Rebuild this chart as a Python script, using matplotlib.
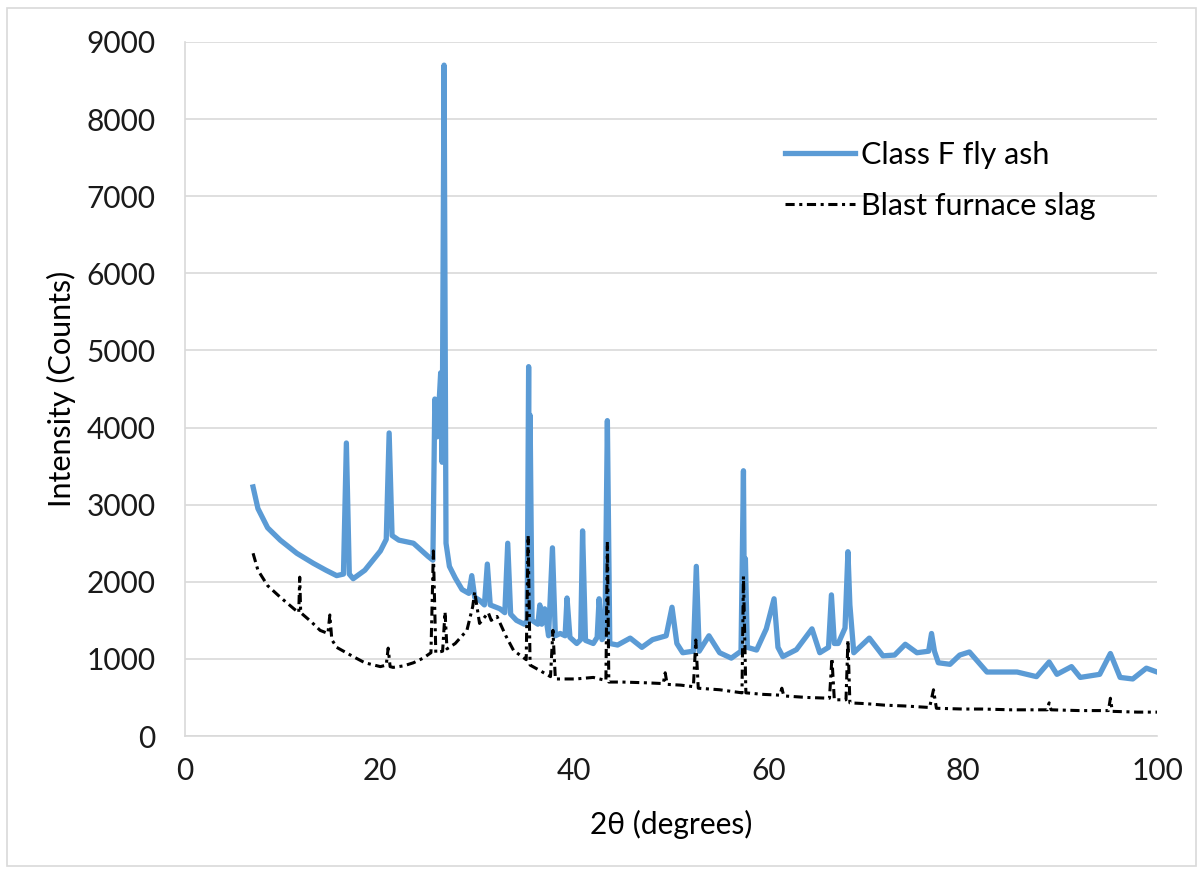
import matplotlib
matplotlib.use("Agg")
import matplotlib.pyplot as plt
from matplotlib.patches import Rectangle

plt.rcParams['font.family'] = ['Lato', 'DejaVu Sans']

# XRD pattern: 2-theta (degrees) and intensity (counts)
fly_ash_2theta = [7.0, 7.5, 8.5, 9.8, 11.5, 13.2, 14.5, 15.6, 16.3, 16.6, 16.9, 17.3, 18.5, 20.1,
                  20.7, 21.0, 21.3, 22.0, 23.5, 25.0, 25.5, 25.7, 25.95, 26.3, 26.45, 26.65, 26.85,
                  27.2, 27.8, 28.5, 29.2, 29.5, 29.8, 30.3, 30.8, 31.1, 31.4, 32.4, 32.9, 33.2, 33.5,
                  34.1, 34.9, 35.2, 35.35, 35.45, 35.5, 35.7, 36.3, 36.5, 36.7, 37.0, 37.4, 37.8, 38.1,
                  38.6, 39.1, 39.3, 39.6, 40.3, 40.7, 40.9, 41.2, 42.0, 42.4, 42.6, 42.9, 43.2, 43.45,
                  43.7, 44.5, 45.8, 47.0, 48.1, 49.5, 50.1, 50.6, 51.2, 52.3, 52.6, 52.9, 53.9, 55.0,
                  56.2, 57.2, 57.45, 57.55, 57.65, 57.85, 58.8, 59.8, 60.6, 61.0, 61.5, 62.9, 64.5,
                  65.3, 66.2, 66.5, 66.8, 67.2, 67.9, 68.2, 68.4, 68.8, 70.4, 71.8, 73.0, 74.1, 75.3,
                  76.5, 76.8, 77.1, 77.5, 78.7, 79.7, 80.7, 82.5, 85.6, 87.6, 88.9, 89.7, 91.2, 92.1,
                  94.1, 95.2, 96.2, 97.5, 98.9, 100.0]
fly_ash_counts = [3230, 2950, 2700, 2540, 2370, 2240, 2150, 2080, 2100, 3800, 2100, 2040, 2150, 2400,
                  2550, 3930, 2600, 2540, 2500, 2330, 2280, 4370, 3880, 4710, 3550, 8700, 2500,
                  2200, 2050, 1900, 1850, 2080, 1800, 1760, 1700, 2230, 1700, 1650, 1600, 2500, 1580,
                  1500, 1450, 1500, 4790, 1600, 4160, 1500, 1450, 1700, 1450, 1650, 1300, 2440, 1300,
                  1330, 1300, 1790, 1280, 1200, 1250, 2660, 1240, 1200, 1280, 1780, 1250, 1300, 4090,
                  1200, 1180, 1270, 1150, 1250, 1300, 1670, 1200, 1080, 1100, 2200, 1100, 1300, 1080,
                  1010, 1100, 3440, 1500, 2300, 1150, 1115, 1390, 1780, 1150, 1030, 1120, 1390,
                  1080, 1150, 1830, 1200, 1200, 1400, 2390, 1700, 1080, 1270, 1040, 1050, 1190, 1080,
                  1100, 1330, 1100, 950, 930, 1050, 1090, 830, 830, 770, 960, 800, 900, 760,
                  800, 1070, 760, 740, 880, 830]

slag_2theta = [7.0, 7.5, 8.5, 9.8, 11.2, 11.7, 11.8, 11.9, 13.0, 13.9, 14.7, 14.9, 15.1, 15.6, 17.3,
               18.5, 20.1, 20.7, 20.9, 21.1, 21.4, 22.5, 23.5, 24.5, 25.3, 25.55, 25.8, 26.5, 26.75,
               26.95, 27.8, 29.0, 29.6, 29.8, 30.3, 31.2, 31.5, 32.1, 33.0, 33.8, 35.1, 35.3, 35.5,
               36.5, 37.6, 37.85, 38.1, 40.2, 42.0, 43.3, 43.45, 43.6, 45.0, 47.5, 49.2, 49.4, 49.6,
               51.0, 52.3, 52.55, 52.8, 55.0, 57.3, 57.45, 57.7, 59.5, 61.2, 61.4, 61.6, 64.0, 66.3,
               66.55, 66.8, 68.0, 68.2, 68.4, 70.0, 72.0, 74.0, 76.6, 77.0, 77.3, 80.0, 82.0, 85.0,
               88.7, 88.9, 89.1, 92.0, 95.0, 95.2, 95.4, 98.0, 100.0]
slag_counts = [2370, 2150, 1950, 1800, 1650, 1600, 2060, 1600, 1480, 1370, 1330, 1570, 1250, 1150, 1030,
               950, 900, 920, 1140, 900, 890, 910, 950, 1010, 1080, 2400, 1080, 1100, 1610,
               1130, 1200, 1370, 1680, 1870, 1460, 1600, 1500, 1550, 1300, 1110, 990, 2600, 920,
               850, 770, 1370, 740, 740, 760, 720, 2520, 700, 700, 690, 680, 820, 670,
               660, 640, 1245, 620, 600, 560, 2070, 560, 540, 530, 620, 520, 500, 490,
               1010, 470, 470, 1245, 430, 420, 400, 390, 370, 600, 360, 350, 350, 340,
               340, 430, 340, 330, 330, 490, 320, 310, 310]

series_labels = ["Class F fly ash", "Blast furnace slag"]
y_ticks = [0, 1000, 2000, 3000, 4000, 5000, 6000, 7000, 8000, 9000]
x_ticks = [0, 20, 40, 60, 80, 100]

fig = plt.figure(figsize=(12.03, 8.73), dpi=100)
ax = fig.add_axes([0.1538, 0.1569, 0.808, 0.795])

# light frame round the whole chart
fig.patches.append(Rectangle((0.006, 0.008), 0.988, 0.983, transform=fig.transFigure,
                             fill=False, edgecolor="#d9d9d9", linewidth=1.2))

ax.plot(fly_ash_2theta, fly_ash_counts, color="#5b9bd5", linewidth=3.8,
        solid_joinstyle="round", label=series_labels[0], zorder=3)
ax.plot(slag_2theta, slag_counts, color="black", linewidth=2.2,
        linestyle=(0, (3, 1.5, 1, 1.5)), label=series_labels[1], zorder=4)

ax.set_xlim(0, 100)
ax.set_ylim(0, 9000)
ax.set_xticks(x_ticks)
ax.set_yticks(y_ticks)
ax.tick_params(length=0, labelsize=21.5, colors="#1a1a1a")
ax.tick_params(axis="y", pad=21)
ax.tick_params(axis="x", pad=15)

ax.grid(axis="y", color="#d9d9d9", linewidth=1.2)
ax.set_axisbelow(True)
for side in ["top", "right"]:
    ax.spines[side].set_visible(False)
for side in ["left", "bottom"]:
    ax.spines[side].set_color("#d9d9d9")
    ax.spines[side].set_linewidth(1.2)

ax.set_xlabel("2θ (degrees)", fontsize=21.5, labelpad=18)
ax.set_ylabel("Intensity (Counts)", fontsize=22, labelpad=8)

ax.legend(loc="upper left", bbox_to_anchor=(0.589, 0.897), frameon=False, fontsize=22,
          handlelength=2.3, handletextpad=0.2, labelspacing=0.75)

fig.savefig("out.png", dpi=100)
